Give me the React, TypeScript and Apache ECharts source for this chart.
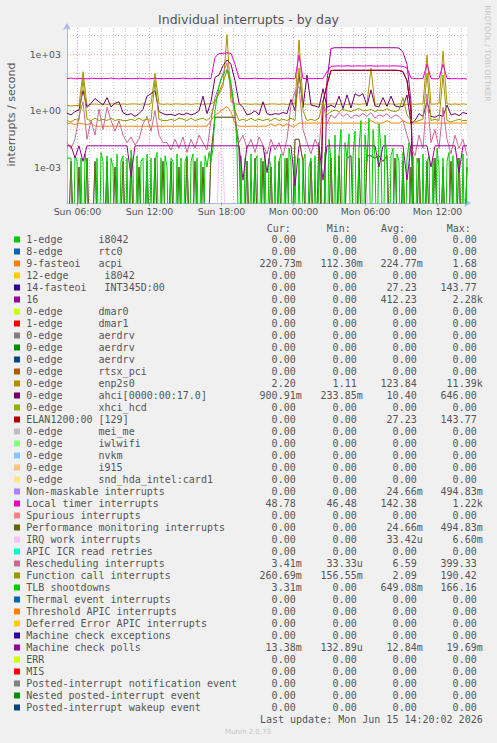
import React, { useEffect, useRef } from 'react';
import * as echarts from 'echarts';

// ---- time / value ranges (hours since Sun 00:00) ----
const TIME_START = 5.125;
const TIME_END = 38.458;
const Y_MIN = 1.21e-5;
const Y_MAX = 2.9e4;

const xMajorTicks = [6, 12, 18, 24, 30, 36];
const xTickLabels = ['Sun 06:00', 'Sun 12:00', 'Sun 18:00', 'Mon 00:00', 'Mon 06:00', 'Mon 12:00'];
const yMajorTicks = [1e-3, 1, 1e3];
const yTickLabels = ['1e-03', '1e+00', '1e+03'];
const yDecades = [1e-4, 1e-3, 1e-2, 1e-1, 1, 1e1, 1e2, 1e3, 1e4];

const palette = ['#00CC00', '#0066B3', '#FF8000', '#FFCC00', '#330099', '#990099', '#CCFF00', '#FF0000', '#808080', '#008F00', '#00487D', '#B35A00', '#B38F00', '#6B006B', '#8FB300', '#B30000', '#BEBEBE', '#80FF80', '#80C9FF', '#FFC080', '#FFE680', '#AA80FF', '#EE00CC', '#FF8080', '#666600', '#FFBFFF', '#00FFCC', '#CC6699', '#999900'];

const labels = [
  '1-edge      i8042', '8-edge      rtc0', '9-fasteoi   acpi', '12-edge      i8042', '14-fasteoi   INT345D:00', '16',
  '0-edge      dmar0', '1-edge      dmar1', '0-edge      aerdrv', '0-edge      aerdrv', '0-edge      aerdrv', '0-edge      rtsx_pci',
  '0-edge      enp2s0', '0-edge      ahci[0000:00:17.0]', '0-edge      xhci_hcd', 'ELAN1200:00 [129]', '0-edge      mei_me',
  '0-edge      iwlwifi', '0-edge      nvkm', '0-edge      i915', '0-edge      snd_hda_intel:card1', 'Non-maskable interrupts',
  'Local timer interrupts', 'Spurious interrupts', 'Performance monitoring interrupts', 'IRQ work interrupts', 'APIC ICR read retries',
  'Rescheduling interrupts', 'Function call interrupts', 'TLB shootdowns', 'Thermal event interrupts', 'Threshold APIC interrupts',
  'Deferred Error APIC interrupts', 'Machine check exceptions', 'Machine check polls', 'ERR', 'MIS',
  'Posted-interrupt notification event', 'Nested posted-interrupt event', 'Posted-interrupt wakeup event',
];
const Z = '0.00';
const curVals = [Z, Z, '220.73m', Z, Z, Z, Z, Z, Z, Z, Z, Z, '2.20', '900.91m', Z, Z, Z, Z, Z, Z, Z, Z, '48.78', Z, Z, Z, Z, '3.41m', '260.69m', '3.31m', Z, Z, Z, Z, '13.38m', Z, Z, Z, Z, Z];
const minVals = [Z, Z, '112.30m', Z, Z, Z, Z, Z, Z, Z, Z, Z, '1.11', '233.85m', Z, Z, Z, Z, Z, Z, Z, Z, '46.48', Z, Z, Z, Z, '33.33u', '156.55m', Z, Z, Z, Z, Z, '132.89u', Z, Z, Z, Z, Z];
const avgVals = [Z, Z, '224.77m', Z, '27.23', '412.23', Z, Z, Z, Z, Z, Z, '123.84', '10.40', Z, '27.23', Z, Z, Z, Z, Z, '24.66m', '142.38', Z, '24.66m', '33.42u', Z, '6.59', '2.09', '649.08m', Z, Z, Z, Z, '12.84m', Z, Z, Z, Z, Z];
const maxVals = [Z, Z, '1.68', Z, '143.77', '2.28k', Z, Z, Z, Z, Z, Z, '11.39k', '646.00', Z, '143.77', Z, Z, Z, Z, Z, '494.83m', '1.22k', Z, '494.83m', '6.60m', Z, '399.33', '190.42', '166.16', Z, Z, Z, Z, '19.69m', Z, Z, Z, Z, Z];

// ---- series values, evenly spaced samples over the time range ----
const zeroLine = [0, 0];
const acpi = [
  0.2, 0.22, 0.18, 0.22, 0.2, 0.18, 0.22, 0.15, 0.15, 0.15, 0.15, 0.15, 0.15, 0.15, 0.15, 0.15, 0.15, 0.15, 0.15, 0.15, 0.15, 0.15, 0.15, 0.15, 0.15,
  0.15, 0.15, 0.15, 0.15, 0.15, 0.15, 0.15, 0.15, 0.15, 0.15, 0.15, 0.3, 0.6, 0.8, 1.2, 1.68, 0.9, 0.2, 0.15, 0.15, 0.15, 0.15, 0.15, 0.15,
  0.15, 0.15, 0.2, 0.15, 0.2, 0.15, 0.2, 0.15, 0.15, 0.22, 0.22, 0.22, 0.22, 0.22, 0.22, 0.22, 0.22, 0.22, 0.22, 0.22, 0.22, 0.22, 0.22, 0.22, 0.22, 0.22,
  0.22, 0.3, 0.22, 0.22, 0.22, 0.3, 0.22, 0.22, 0.22, 0.3, 0.22, 0.22, 0.22, 0.22, 0.22, 0.22, 0.22, 0.22, 0.22, 0.22, 0.22, 0.22, 0.22, 0.22, 0.22, 0.22,
];
const irq16 = [
  0, 0, 0, 0, 0, 0, 0, 0, 0, 0, 0, 0, 0, 0, 0, 0, 0, 0, 0, 0, 0, 0, 0, 0, 0,
  0, 0, 0, 0, 0, 0, 0, 0, 0, 0, 0, 0, 0, 0, 0, 0, 0, 0, 0, 0, 0, 0, 0, 0,
  0, 0, 0, 0, 0, 0, 0, 0, 0, 0, 0, 0, 0, 0, 0, 0, 40, 2100, 2280, 2270, 2285, 2275, 2280, 2270, 2280, 2275,
  2280, 2275, 2280, 2270, 2285, 2280, 2275, 2270, 2200, 1300, 300, 3, 0, 0, 0, 0, 0, 0, 0, 0, 0, 0, 0, 0, 0, 0,
];
const elan = [
  0, 0, 0, 0, 0, 0, 0, 0, 0, 0, 0, 0, 0, 0, 0, 0, 0, 0, 0, 0, 0, 0, 0, 0, 0,
  0, 0, 0, 0, 0, 0, 0, 0, 0, 0, 0, 0, 0, 0, 0, 0, 0, 0, 0, 0, 0, 0, 0, 0,
  0, 0, 0, 0, 0, 0, 0, 0, 0, 0, 0, 0, 0, 0, 0, 3, 25, 140, 143, 143, 143, 143, 143, 143, 143, 143,
  143, 143, 143, 143, 143, 143, 143, 143, 140, 120, 40, 1, 0, 0, 0, 0, 0, 0, 0, 0, 0, 0, 0, 0, 0, 0,
];
const int345d = elan;
const enp2s0 = [
  1.9, 1.8, 1.9, 1.9, 120, 1.9, 2.2, 2.3, 2.2, 2.3, 2.2, 2.3, 2.3, 2.2, 2.3, 2.2, 2.3, 2.3, 2.2, 2.3, 2.2, 2.3, 100, 2.3, 2.2,
  2.3, 2.2, 2.3, 2.3, 2.2, 2.3, 2.2, 2.3, 2.3, 2.2, 2.3, 2.3, 3, 8, 20, 11390, 3, 2.3, 2.2, 2.3, 2.3, 2.2, 2.3, 2.2,
  2.3, 2.2, 2.3, 2.3, 2.2, 2.3, 2.2, 2.3, 2.3, 6000, 2.3, 2.2, 2.3, 2.3, 2.2, 2.3, 2.2, 2.3, 2.3, 2.2, 2.3, 2.2, 2.3, 2.3, 2.2, 2.3,
  2.3, 185, 2.2, 2.3, 2.3, 2.2, 2.3, 2.2, 2.3, 2.3, 2.2, 2.3, 2.2, 2.3, 2.3, 900, 2.2, 2.3, 2.3, 1500, 2.3, 2.2, 2.3, 2.2, 2.3, 2.2,
];
const ahci = [
  0.75, 0.6, 0.9, 1.1, 12, 1.5, 2.5, 4.5, 3, 2, 5, 1.6, 2.5, 3, 0.8, 0.6, 0.7, 0.5, 0.7, 1.2, 6, 8, 12, 0.9, 0.7,
  0.6, 0.65, 0.55, 0.7, 0.6, 0.75, 0.6, 0.7, 1, 6, 0.7, 3, 60, 80, 250, 500, 300, 40, 2.5, 1.5, 0.6, 0.7, 1, 0.6,
  3, 0.7, 0.6, 0.7, 0.65, 0.8, 0.7, 4, 1, 100, 1.5, 80, 2, 1.8, 1.5, 15, 1.5, 2, 1.5, 6, 1.3, 7, 1.4, 8, 6, 8,
  1.8, 13, 1.8, 1.6, 5, 1.7, 6, 1.8, 1.6, 1.7, 7, 0.2, 0.3, 0.7, 0.5, 3, 0.5, 0.45, 0.6, 0.5, 2, 0.6, 0.7, 0.55, 0.8, 0.7,
];
const perfMon = [
  0, 0.002, 0, 0.001, 0, 0.003, 0, 0.002, 0, 0, 0.002, 0, 0.001, 0, 0.002, 0, 0.003, 0, 0.001, 0, 0.002, 0, 0.003, 0, 0.002,
  0, 0.002, 0, 0.001, 0, 0.003, 0, 0.002, 0, 0.001, 0, 0.005, 0.45, 0.45, 0.45, 0.45, 0.45, 0.45, 0.01, 0, 0.002, 0, 0.003, 0,
  0.002, 0, 0.001, 0, 0.002, 0, 0.003, 0, 0.03, 0.03, 0.002, 0, 0.002, 0, 0.02, 0, 0, 0.003, 0, 0.004, 0, 0.003, 0.004, 0, 0.003, 0,
  0.004, 0.004, 0.003, 0.004, 0.002, 0.004, 0, 0.003, 0, 0.002, 0, 0.001, 0, 0.003, 0, 0.002, 0, 0.003, 0, 0.001, 0, 0.002, 0, 0.003, 0, 0.001,
];
const nmi = perfMon;
const localTimer = [
  52, 55, 50, 53, 52, 50, 54, 52, 51, 53, 52, 55, 52, 50, 52, 53, 51, 52, 54, 52, 50, 52, 53, 52, 51,
  52, 53, 51, 52, 54, 52, 50, 52, 53, 51, 52, 52, 700, 1100, 1150, 1220, 1150, 300, 52, 53, 51, 52, 54, 52,
  52, 50, 52, 53, 51, 52, 54, 52, 51, 900, 52, 53, 51, 52, 52, 52, 120, 230, 240, 245, 238, 250, 240, 242, 248, 240,
  245, 250, 240, 238, 246, 240, 244, 248, 240, 230, 190, 55, 52, 51, 53, 300, 52, 50, 52, 300, 53, 51, 52, 50, 52, 49,
];
const irqWork = [
  0, 0, 0, 0, 0, 0, 0, 0, 0, 0, 0, 0, 0, 0, 0, 0, 0, 0, 0, 0, 0, 0, 0, 0, 0,
  0, 0, 0, 0, 0, 0, 0, 0, 0, 0, 0, 0, 0, 0.0066, 0.003, 0, 0, 0, 0, 0, 0, 0, 0, 0,
  0, 0, 0, 0, 0, 0, 0, 0, 0, 0, 0, 0, 0, 0, 0, 0, 0, 0, 0, 0, 0, 0, 0, 0, 0, 0,
  0.00004, 0, 0, 0, 0, 0, 0, 0, 0, 0, 0, 0, 0, 0, 0, 0, 0, 0, 0, 0, 0, 0, 0, 0, 0, 0,
];
const resched = [
  0.02, 0.01, 0.03, 0.5, 3, 0.03, 0.3, 0.05, 1.2, 0.1, 1.5, 0.3, 0.08, 0.3, 0.05, 0.02, 0.04, 0.015, 0.03, 0.2, 0.5, 0.08, 1, 0.05, 0.02,
  0.02, 0.008, 0.03, 0.01, 0.04, 0.006, 0.03, 0.01, 0.05, 0.02, 0.008, 0.3, 5, 20, 100, 350, 10, 0.5, 0.02, 0.05, 0.01, 0.03, 0.006, 0.04,
  0.015, 0.005, 0.03, 0.008, 0.02, 0.004, 0.03, 2, 10, 20, 0.1, 0.02, 0.005, 0.03, 0.01, 3, 0.2, 0.6, 0.4, 0.8, 0.5, 0.7, 0.4, 0.6, 0.5, 0.7,
  0.5, 0.8, 0.4, 0.6, 0.5, 0.7, 0.4, 0.6, 0.5, 0.3, 0.05, 0.01, 0.004, 0.05, 0.01, 8, 0.02, 0.1, 0.01, 1.5, 0.03, 0.005, 0.05, 0.01, 0.03, 0.004,
];
const funcCall = [
  0.3, 0.25, 0.35, 0.3, 50, 0.35, 0.3, 0.4, 0.3, 0.35, 0.3, 0.4, 0.3, 0.35, 0.3, 0.3, 0.35, 0.3, 0.4, 0.3, 0.35, 0.3, 40, 0.35, 0.3,
  0.3, 0.35, 0.3, 0.4, 0.35, 0.3, 0.4, 0.3, 0.35, 0.4, 0.3, 0.5, 3, 10, 30, 150, 20, 1, 0.3, 0.35, 0.3, 0.4, 0.3, 0.35,
  0.3, 0.35, 0.3, 0.4, 0.3, 0.35, 0.3, 0.4, 0.3, 190, 1, 0.3, 0.35, 0.3, 0.4, 3, 0.6, 0.9, 1.1, 0.9, 1.2, 1, 0.9, 1.1, 1.3, 1,
  1, 1.2, 0.9, 1.1, 1, 1.3, 1, 0.9, 1.1, 5, 0.6, 0.3, 0.25, 0.3, 0.35, 100, 0.3, 0.35, 0.3, 80, 0.3, 0.25, 0.3, 0.35, 0.3, 0.3,
];
// TLB shootdowns, read at a finer (10 min) spacing
const tlb = [
  0.003, 0.003, 0.003, 0, 0.004, 0.002, 0, 0.003, 0, 0.005, 0.001, 0, 0, 0, 0, 0.003, 0, 0.006, 0.002, 0,
  0.004, 0, 0.003, 0.001, 0, 0.005, 0, 0.002, 0.004, 0, 0.003, 0, 0.008, 0.001, 0, 0.004, 0, 0.002, 0.003, 0,
  0.005, 0, 0.003, 0, 0.002, 0.006, 0, 0.003, 0, 0.004, 0.001, 0, 0.003, 0.002, 0, 0.005, 0, 0.003, 0, 0.002,
  0.004, 0, 0.002, 0.005, 0, 0.003, 0, 0.002, 0, 0.004, 0.001, 0.006, 0.002, 0.01, 1, 5, 20, 50, 80, 120,
  160, 100, 30, 5, 1, 0.01, 0, 0.004, 0, 0.003, 0.001, 0, 0.005, 0, 0.002, 0.004, 0, 0.003, 0, 0.006,
  0, 0.003, 0.001, 0, 0.004, 0, 0.002, 0.005, 0, 0.003, 0, 0.01, 0.002, 0, 0.004, 0, 0.003, 0, 0.002, 0.005,
  0, 0.001, 0.003, 0, 0.004, 0, 0.002, 0.003, 0, 0.006, 0, 0.03, 0.002, 0, 0.05, 0, 0.004, 0.1, 0, 0.02,
  0.003, 0.06, 0, 0.004, 0.08, 0, 0.01, 0.3, 0, 0.05, 0.002, 0.4, 0, 0.1, 0.003, 0, 0.2, 0.01, 0, 0.05,
  0.003, 0, 0.004, 0.01, 0, 0.005, 0.002, 0, 0.006, 0, 0.003, 0.02, 0, 0.004, 0, 0.003, 0.001, 0, 0.005, 0,
  0.002, 0.004, 0, 0.003, 0, 0.01, 0.001, 0, 0.003, 0, 0.002, 0.006, 0, 0.004, 0, 0.003, 0.002, 0, 0.005, 0,
  0.003,
];
const mcePolls = [
  0.0135, 0.0135, 0.003, 0.0135, 0.002, 0.0135, 0.0135, 0.0135, 0.0135, 0.0135, 0.0135, 0.0135, 0.0135, 0.0135, 0.0135, 0.0135, 0.0003, 0.0135, 0.0135, 0.0135, 0.0135, 0.0135, 0.0135, 0.0135, 0.0135,
  0.0135, 0.0135, 0.0135, 0.0135, 0.0135, 0.0135, 0.0135, 0.0135, 0.0135, 0.0135, 0.0135, 0.0135, 0.0135, 0.0135, 0.0135, 0.0135, 0.0135, 0.0135, 0.0135, 0.0002, 0.0135, 0.0135, 0.0135, 0.0135,
  0.0135, 0.0005, 0.0135, 0.0135, 0.0135, 0.0135, 0.0135, 0.0135, 0.0001, 0.0135, 0.0135, 0.0135, 0.0135, 0.0135, 0.0135, 0.0002, 0.0135, 0.0135, 0.0135, 0.0135, 0.0135, 0.0135, 0.0135, 0.0135, 0.0135, 0.0135,
  0.0135, 0.0135, 0.0135, 0.001, 0.0135, 0.0135, 0.0135, 0.0135, 0.0135, 0.0135, 0.0002, 0.0135, 0.0135, 0.0135, 0.0135, 0.0135, 0.001, 0.0135, 0.0135, 0.0135, 0.0135, 0.0135, 0.0135, 0.0005, 0.0135, 0.0135,
];

const seriesValues: number[][] = labels.map(() => zeroLine);
seriesValues[2] = acpi;
seriesValues[4] = int345d;
seriesValues[5] = irq16;
seriesValues[12] = enp2s0;
seriesValues[13] = ahci;
seriesValues[15] = elan;
seriesValues[21] = nmi;
seriesValues[22] = localTimer;
seriesValues[24] = perfMon;
seriesValues[25] = irqWork;
seriesValues[27] = resched;
seriesValues[28] = funcCall;
seriesValues[29] = tlb;
seriesValues[34] = mcePolls;

const FLOOR = 1e-9; // zero cannot sit on a log axis: drawn below the plot and clipped

function toPoints(vals: number[]) {
  const n = vals.length;
  return vals.map((v, i) => [TIME_START + (i * (TIME_END - TIME_START)) / (n - 1), v > 0 ? v : FLOOR]);
}

const TEXT = '#555555';
const MINOR_GRID = 'rgba(150,150,150,0.55)';
const MAJOR_GRID = 'rgba(240,120,120,0.7)';
const AXIS = '#A8B8EC';

function buildOption() {
  const gridLines: any[] = [];
  for (let h = 6; h <= 38; h++) {
    const major = xMajorTicks.indexOf(h) >= 0;
    gridLines.push({ xAxis: h, lineStyle: { color: major ? MAJOR_GRID : MINOR_GRID, type: [1, 2], width: 1 } });
  }
  yDecades.forEach((d) => {
    const major = yMajorTicks.some((t) => Math.abs(Math.log10(t) - Math.log10(d)) < 1e-6);
    gridLines.push({ yAxis: d, lineStyle: { color: major ? MAJOR_GRID : MINOR_GRID, type: [1, 2], width: 1 } });
  });

  const series: any[] = [
    {
      type: 'line',
      data: [[TIME_START, FLOOR]],
      silent: true,
      symbol: 'none',
      z: 1,
      lineStyle: { width: 0 },
      markLine: {
        silent: true,
        symbol: ['none', 'none'],
        label: { show: false },
        z: 1,
        animation: false,
        data: gridLines,
      },
    },
  ];
  labels.forEach((lab, r) => {
    const color = palette[r % palette.length];
    series.push({
      name: lab.replace(/\s+/g, ' '),
      type: 'line',
      data: toPoints(seriesValues[r]),
      symbol: 'none',
      showSymbol: false,
      silent: true,
      clip: true,
      z: 2,
      lineStyle: { width: 1, color },
      itemStyle: { color },
    });
  });

  // legend / footer texts
  const CHAR_W = 6.02;
  const LEG_X = 26.3;
  const ROW0 = 239.5;
  const ROW_H = 12;
  const colEnds = [295.7, 356.7, 416.7, 476.7];
  const mono = { fontFamily: 'DejaVu Sans Mono', fontSize: 10, fill: TEXT };
  const graphics: any[] = [];
  const text = (x: number, y: number, t: string, align: string, extra: any = {}) => ({
    type: 'text',
    x,
    y,
    silent: true,
    style: { text: t, align, textAlign: align, verticalAlign: 'middle', textVerticalAlign: 'middle', ...mono, ...extra },
  });
  const headers = ['Cur:', 'Min:', 'Avg:', 'Max:'];
  const headerX = [266.7, 326.7, 381, 446.7];
  headers.forEach((h, i) => graphics.push(text(headerX[i], 228, h, 'left')));
  const cols = [curVals, minVals, avgVals, maxVals];
  labels.forEach((lab, r) => {
    const y = ROW0 + r * ROW_H;
    graphics.push({ type: 'rect', silent: true, shape: { x: 14, y: y - 3, width: 6, height: 6 }, style: { fill: palette[r % palette.length] } });
    const re = /\S+(?: \S+)*/g;
    let m: RegExpExecArray | null;
    while ((m = re.exec(lab))) {
      graphics.push(text(LEG_X + m.index * CHAR_W, y, m[0], 'left'));
    }
    cols.forEach((col, c) => {
      const s = col[r];
      const suffix = /[a-z]$/i.test(s);
      graphics.push(text(colEnds[c] + (suffix ? CHAR_W : 0), y, s, 'right'));
    });
  });
  graphics.push(text(482.7, 719.3, 'Last update: Mon Jun 15 14:20:02 2026', 'right'));
  graphics.push(text(248, 731.5, 'Munin 2.0.73', 'center', { fontFamily: 'DejaVu Sans', fontSize: 7, fill: '#C4C4C4' }));
  graphics.push({
    type: 'text', x: 487.5, y: 53.5, rotation: -Math.PI / 2, silent: true,
    style: { text: 'RRDTOOL / TOBI OETIKER', align: 'center', textAlign: 'center', verticalAlign: 'middle', textVerticalAlign: 'middle', fontFamily: 'DejaVu Sans', fontSize: 7.5, fill: '#C4C4C4' },
  });
  graphics.push({
    type: 'text', x: 11, y: 114.5, rotation: Math.PI / 2, silent: true,
    style: { text: 'interrupts / second', align: 'center', textAlign: 'center', verticalAlign: 'middle', textVerticalAlign: 'middle', fontFamily: 'DejaVu Sans', fontSize: 11, fill: TEXT },
  });

  return {
    animation: false,
    backgroundColor: '#F0F0F0',
    textStyle: { fontFamily: 'DejaVu Sans' },
    title: {
      text: 'Individual interrupts - by day',
      left: 'center',
      top: 8,
      textStyle: { fontFamily: 'DejaVu Sans', fontSize: 12.5, fontWeight: 'normal', color: TEXT },
    },
    grid: { left: 67, top: 27, width: 400, height: 176, show: true, backgroundColor: '#FFFFFF', borderWidth: 0 },
    xAxis: {
      type: 'value',
      min: TIME_START,
      max: TIME_END,
      splitLine: { show: false },
      axisLine: { onZero: false, lineStyle: { color: AXIS, width: 1 }, symbol: ['none', 'arrow'], symbolSize: [6, 7], symbolOffset: [0, 4] },
      axisTick: { show: true, customValues: xMajorTicks, length: 3, lineStyle: { color: MAJOR_GRID } },
      axisLabel: {
        customValues: xMajorTicks,
        formatter: (v: number) => {
          const i = xMajorTicks.findIndex((t) => Math.abs(t - v) < 1e-6);
          return i >= 0 ? xTickLabels[i] : '';
        },
        fontFamily: 'DejaVu Sans',
        fontSize: 9.33,
        color: TEXT,
        margin: 4,
      },
    },
    yAxis: {
      type: 'log',
      logBase: 10,
      min: Y_MIN,
      max: Y_MAX,
      splitLine: { show: false },
      axisLine: { show: true, onZero: false, lineStyle: { color: AXIS, width: 1 }, symbol: ['none', 'arrow'], symbolSize: [6, 7], symbolOffset: [0, 4] },
      axisTick: { show: false },
      axisLabel: {
        customValues: yMajorTicks,
        formatter: (v: number) => {
          const i = yMajorTicks.findIndex((t) => Math.abs(Math.log10(t) - Math.log10(v)) < 1e-6);
          return i >= 0 ? yTickLabels[i] : '';
        },
        fontFamily: 'DejaVu Sans',
        fontSize: 9.33,
        color: TEXT,
        margin: 6,
      },
    },
    graphic: graphics,
    series,
  };
}

export default function App() {
  const ref = useRef<HTMLDivElement>(null);
  useEffect(() => {
    if (!ref.current) return;
    const chart = echarts.init(ref.current, null, { renderer: 'svg' });
    chart.setOption(buildOption() as any);
    return () => chart.dispose();
  }, []);
  return <div ref={ref} style={{ position: 'absolute', left: 0, top: 0, width: 497, height: 743 }} />;
}
